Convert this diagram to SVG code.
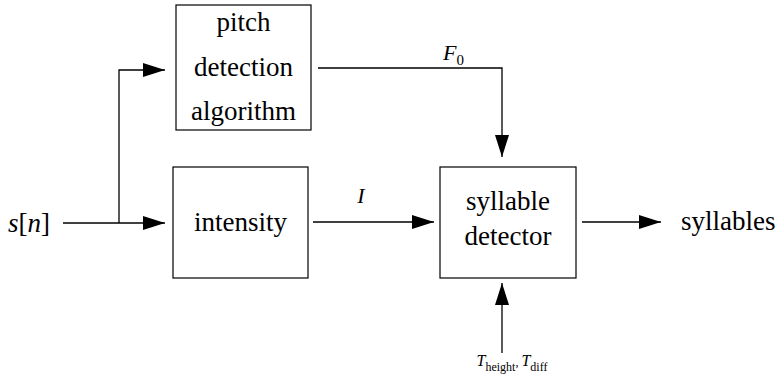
<svg xmlns="http://www.w3.org/2000/svg" width="776" height="385" viewBox="0 0 776 385">
<style>
.box{fill:#fff;stroke:#000;stroke-width:1.2}
text{font-family:'Liberation Serif','DejaVu Serif',serif;fill:#000}
.t{font-size:27px}
.m{font-style:italic}
.c{text-anchor:middle}
.ln{fill:none;stroke:#000;stroke-width:1.3}
</style>
<defs>
<marker id="ah" viewBox="0 0 22 14" refX="22" refY="7" markerWidth="22" markerHeight="14" markerUnits="userSpaceOnUse" orient="auto">
<path d="M0,0 L22,7 L0,14 Z" fill="#000"/>
</marker>
</defs>
<g id="connectors">
<path class="ln" d="M63,223 H165" marker-end="url(#ah)"/>
<path class="ln" d="M119,223 V70 H165" marker-end="url(#ah)"/>
<path class="ln" d="M318,68 H502 V157" marker-end="url(#ah)"/>
<path class="ln" d="M313,222 H434" marker-end="url(#ah)"/>
<path class="ln" d="M582,222 H661" marker-end="url(#ah)"/>
<path class="ln" d="M502,353 V283" marker-end="url(#ah)"/>
<text class="m" x="443" y="60" font-size="22">F<tspan font-style="normal" font-size="15" dy="5">0</tspan></text>
<text class="m c" x="361" y="203" font-size="22">I</text>
<text class="m c" x="512" y="366" font-size="16">T<tspan font-style="normal" font-size="12" dy="5">height</tspan><tspan font-style="normal" font-size="12" dy="-5">, </tspan>T<tspan font-style="normal" font-size="12" dy="5">diff</tspan></text>
</g>
<g id="input">
<text class="t" x="8" y="232"><tspan font-style="italic">s</tspan>[<tspan font-style="italic">n</tspan>]</text>
</g>
<g id="pitch">
<rect class="box" x="176" y="5" width="135" height="125"/>
<text class="t c" x="243.5" y="31">pitch</text>
<text class="t c" x="243.5" y="76">detection</text>
<text class="t c" x="243.5" y="120">algorithm</text>
</g>
<g id="intensity">
<rect class="box" x="173" y="167" width="135" height="111"/>
<text class="t c" x="240.5" y="231">intensity</text>
</g>
<g id="syllable">
<rect class="box" x="440" y="167" width="136" height="111"/>
<text class="t c" x="508" y="210">syllable</text>
<text class="t c" x="508" y="245">detector</text>
</g>
<g id="output">
<text class="t" x="681" y="230">syllables</text>
</g>
</svg>
